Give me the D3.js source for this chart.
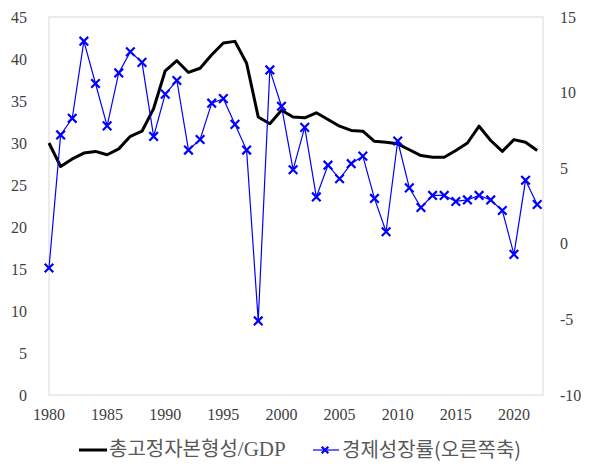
<!DOCTYPE html>
<html>
<head>
<meta charset="utf-8">
<script src="https://cdn.jsdelivr.net/npm/d3@7"></script>
<style>
  body { margin: 0; background: #fff; }
  .serif { font-family: "Liberation Serif", "Times New Roman", Times, serif; }
  .kor { font-family: "Noto Sans CJK KR", sans-serif; }
</style>
</head>
<body>
<svg></svg>
<script>
const years = d3.range(1980, 2023);
// 총고정자본형성/GDP (%), left axis
const gfcf = [30.0, 27.2, 28.1, 28.8, 29.0, 28.6, 29.3, 30.8, 31.4, 34.1,
  38.6, 39.8, 38.4, 38.9, 40.5, 41.9, 42.1, 39.5, 33.1, 32.3,
  33.9, 33.1, 33.0, 33.6, 32.8, 32.0, 31.5, 31.4, 30.2, 30.1,
  29.9, 29.2, 28.5, 28.3, 28.3, 29.1, 30.0, 32.0, 30.3, 29.0,
  30.4, 30.1, 29.1];
// 경제성장률 (%), right axis
const growth = [-1.6, 7.2, 8.3, 13.4, 10.6, 7.8, 11.3, 12.7, 12.0, 7.1,
  9.9, 10.8, 6.2, 6.9, 9.3, 9.6, 7.9, 6.2, -5.1, 11.5,
  9.1, 4.9, 7.7, 3.1, 5.2, 4.3, 5.3, 5.8, 3.0, 0.8,
  6.8, 3.7, 2.4, 3.2, 3.2, 2.8, 2.9, 3.2, 2.9, 2.2,
  -0.7, 4.2, 2.6];
const leftTicks = d3.range(0, 46, 5);
const rightTicks = d3.range(-10, 16, 5);
const xTicks = d3.range(1980, 2021, 5);
const legendKo = ["총고정자본형성", "경제성장률"];
const legendRest = ["/GDP", "(오른쪽축)"];

const width = 598, height = 473;
const m = { left: 49, right: 55, top: 17, bottom: 78 };

const svg = d3.select("svg")
  .attr("width", width)
  .attr("height", height);

const x = d3.scaleLinear().domain([1980, 2022.5]).range([m.left, width - m.right]);
const yL = d3.scaleLinear().domain([0, 45]).range([height - m.bottom, m.top]);
const yR = d3.scaleLinear().domain([-10, 15]).range([height - m.bottom, m.top]);

// plot area border
svg.append("rect")
  .attr("x", m.left).attr("y", m.top)
  .attr("width", width - m.right - m.left)
  .attr("height", height - m.bottom - m.top)
  .attr("fill", "none")
  .attr("stroke", "#d9d9d9")
  .attr("stroke-width", 1);

const tickColor = "#404040";

// left axis labels
svg.append("g").selectAll("text")
  .data(leftTicks)
  .join("text")
  .attr("class", "serif")
  .attr("x", 27)
  .attr("y", d => yL(d))
  .attr("dy", "0.35em")
  .attr("text-anchor", "end")
  .attr("font-size", 16)
  .attr("fill", tickColor)
  .text(d => d);

// right axis labels
svg.append("g").selectAll("text")
  .data(rightTicks)
  .join("text")
  .attr("class", "serif")
  .attr("x", 560)
  .attr("y", d => yR(d))
  .attr("dy", "0.35em")
  .attr("text-anchor", "start")
  .attr("font-size", 16)
  .attr("fill", tickColor)
  .text(d => d);

// x axis labels
svg.append("g").selectAll("text")
  .data(xTicks)
  .join("text")
  .attr("class", "serif")
  .attr("x", d => x(d))
  .attr("y", 420)
  .attr("text-anchor", "middle")
  .attr("font-size", 16)
  .attr("fill", tickColor)
  .text(d => d);

// black line
const lineL = d3.line().x((d, i) => x(years[i])).y(d => yL(d));
svg.append("path")
  .datum(gfcf)
  .attr("d", lineL)
  .attr("fill", "none")
  .attr("stroke", "#000")
  .attr("stroke-width", 3)
  .attr("stroke-linejoin", "round");

// blue line with x markers
const lineR = d3.line().x((d, i) => x(years[i])).y(d => yR(d));
svg.append("path")
  .datum(growth)
  .attr("d", lineR)
  .attr("fill", "none")
  .attr("stroke", "#0000ff")
  .attr("stroke-width", 1.2);

const cross = d3.symbol().type(d3.symbolX).size(50);
svg.append("g").selectAll("path")
  .data(growth)
  .join("path")
  .attr("transform", (d, i) => `translate(${x(years[i])},${yR(d)})`)
  .attr("d", cross)
  .attr("fill", "none")
  .attr("stroke", "#0000ff")
  .attr("stroke-width", 2.2);

// legend
const ly = 450;
const lg = svg.append("g");
lg.append("line")
  .attr("x1", 79).attr("x2", 107).attr("y1", ly).attr("y2", ly)
  .attr("stroke", "#000").attr("stroke-width", 3);
const t1 = lg.append("text")
  .attr("x", 109).attr("y", ly).attr("dy", "0.35em")
  .attr("fill", "#595959");
t1.append("tspan").attr("class", "kor").attr("font-size", 20).text(legendKo[0]);
t1.append("tspan").attr("class", "serif").attr("font-size", 21).text(legendRest[0]);

lg.append("line")
  .attr("x1", 313).attr("x2", 339).attr("y1", ly).attr("y2", ly)
  .attr("stroke", "#0000ff").attr("stroke-width", 1.2);
lg.append("path")
  .attr("transform", `translate(325,${ly})`)
  .attr("d", d3.symbol().type(d3.symbolX).size(30))
  .attr("fill", "none").attr("stroke", "#0000ff").attr("stroke-width", 2.2);
lg.append("text")
  .attr("class", "kor")
  .attr("x", 342).attr("y", ly).attr("dy", "0.35em")
  .attr("font-size", 20)
  .attr("fill", "#595959")
  .text(legendKo[1] + legendRest[1]);
</script>
</body>
</html>
